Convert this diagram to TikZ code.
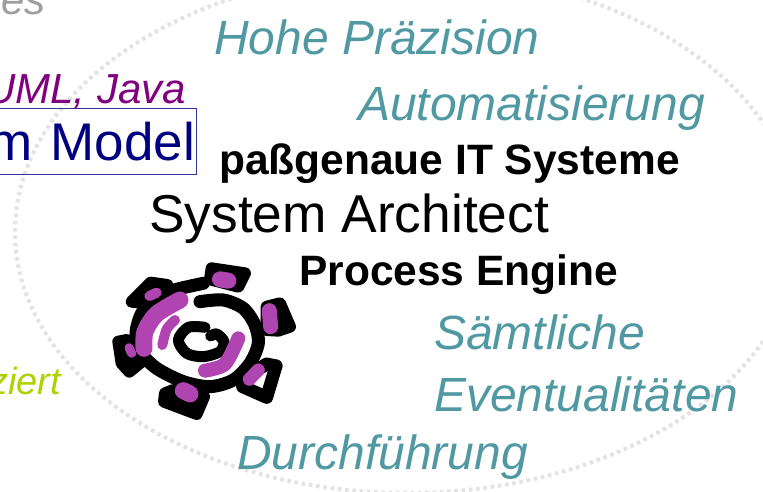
\documentclass[tikz,border=0pt]{standalone}
\usepackage{fontspec}
\setmainfont{Liberation Sans}
\definecolor{pastelTeal}{HTML}{5099A3}
\definecolor{cogPurple}{HTML}{B044B0}
\definecolor{limeGreen}{HTML}{B0D000}
\definecolor{umlPurple}{HTML}{800080}
\definecolor{modelBlue}{HTML}{000080}
\tikzset{
  label/.style={inner sep=0, anchor=base west},
  cutlabel/.style={inner sep=0, anchor=base east},
  goal/.style={label, pastelTeal, font=\fontsize{48}{52}\selectfont\itshape},
  strong/.style={label, black, font=\fontsize{42.5}{46}\selectfont\bfseries},
  cogLine/.style={black, line width=13pt, line cap=round, line join=round},
  cogTooth/.style={cogLine, fill=black, line width=12pt},
  cogMark/.style={cogPurple, line cap=round, line join=round},
}

\begin{document}
\begin{tikzpicture}[x=1pt, y=-1pt]
    \useasboundingbox (0,0) rectangle (763,492);
    \clip (0,0) rectangle (763,492);

    \fill[white] (0,0) rectangle (763,492);
    \fill[black!0.5] (100,250) rectangle (304,430);
    \draw[black!11, line width=4pt, dash pattern=on 3.5pt off 3.8pt] (407,232) ellipse [x radius=392, y radius=261];

    % cog, coordinates read off the 3x crop
    \begin{scope}[shift={(90,240)}, x=0.3333pt, y=-0.3333pt]
        % teeth
        \draw[cogTooth] (365,85) -- (465,100) -- (445,140) -- (360,118) -- cycle;
        \draw[cogTooth] (530,200) -- (570,190) -- (600,260) -- (565,272) -- (530,270) -- cycle;
        \draw[cogLine] (558,378) -- (530,372) -- (470,410);
        \draw[cogLine] (558,378) -- (530,472) -- (458,440);
        \draw[cogTooth] (250,450) -- (225,460) -- (222,485) -- (320,522) -- (342,470) -- cycle;
        \draw[cogTooth] (85,305) -- (110,300) -- (155,365) -- (118,395) -- (95,370) -- cycle;
        \draw[cogTooth] (125,185) -- (182,128) -- (232,135) -- (170,190) -- cycle;
        % ring and spiral
        \draw[cogLine] plot[smooth] coordinates {(330,185) (400,180) (460,205) (495,255) (505,310) (480,370) (430,420) (360,440) (280,425) (200,385) (150,335) (138,280) (155,220) (200,170) (260,148) (340,130)};
        \draw[cogLine, line width=11pt] plot[smooth] coordinates {(345,262) (295,262) (265,300) (290,340) (340,350) (390,335) (402,305) (380,282) (362,288)};
        % purple marks
        \draw[cogMark, line width=17pt] plot[smooth] coordinates {(270,180) (200,222) (165,275) (162,325)};
        \draw[cogMark, line width=10pt] plot[smooth] coordinates {(255,240) (230,268) (217,315)};
        \draw[cogMark, line width=14pt] plot[smooth] coordinates {(345,392) (405,372) (445,295)};
        \draw[cogMark, line width=16pt] (390,118) -- (415,122);
        \draw[cogMark, line width=15pt] (538,212) -- (542,260);
        \draw[cogMark, line width=13pt] (478,418) -- (505,390);
        \draw[cogMark, line width=17pt] (280,452) -- (300,462);
        \draw[cogMark, line width=9pt] (117,323) -- (125,340);
        \draw[cogMark, line width=10pt] (178,168) -- (200,158);
    \end{scope}

    \node[goal] (hohe) at (214,55) {Hohe Präzision};
    \node[goal] (automatisierung) at (358,121) {Automatisierung};
    \node[strong] (passgenau) at (219,175) {paßgenaue IT Systeme};
    \node[label, font=\fontsize{53.3}{57}\selectfont] (architect) at (149,232) {System Architect};
    \node[strong] (engine) at (299,285) {Process Engine};
    \node[goal] (saemtliche) at (434,349) {Sämtliche};
    \node[goal] (eventual) at (434,411) {Eventualitäten};
    \node[goal] (durchfuehrung) at (237,469) {Durchführung};

    % words cut by the left edge
    \node[cutlabel, black!38, font=\fontsize{42}{46}\selectfont\itshape] (rest) at (46,15) {es};
    \node[cutlabel, umlPurple, font=\fontsize{42}{46}\selectfont\itshape] (uml) at (186,104) {UML, Java};
    \node[cutlabel, limeGreen, font=\fontsize{38}{42}\selectfont\itshape] (ziert) at (61,394) {ziert};
    \node[draw=modelBlue!80, text=modelBlue, line width=1pt, anchor=east, inner xsep=1.5pt, inner ysep=0, text width=260pt, align=right, minimum height=66pt, font=\fontsize{53}{57}\selectfont] (model) at (197,141.5) {m Model};
\end{tikzpicture}
\end{document}
